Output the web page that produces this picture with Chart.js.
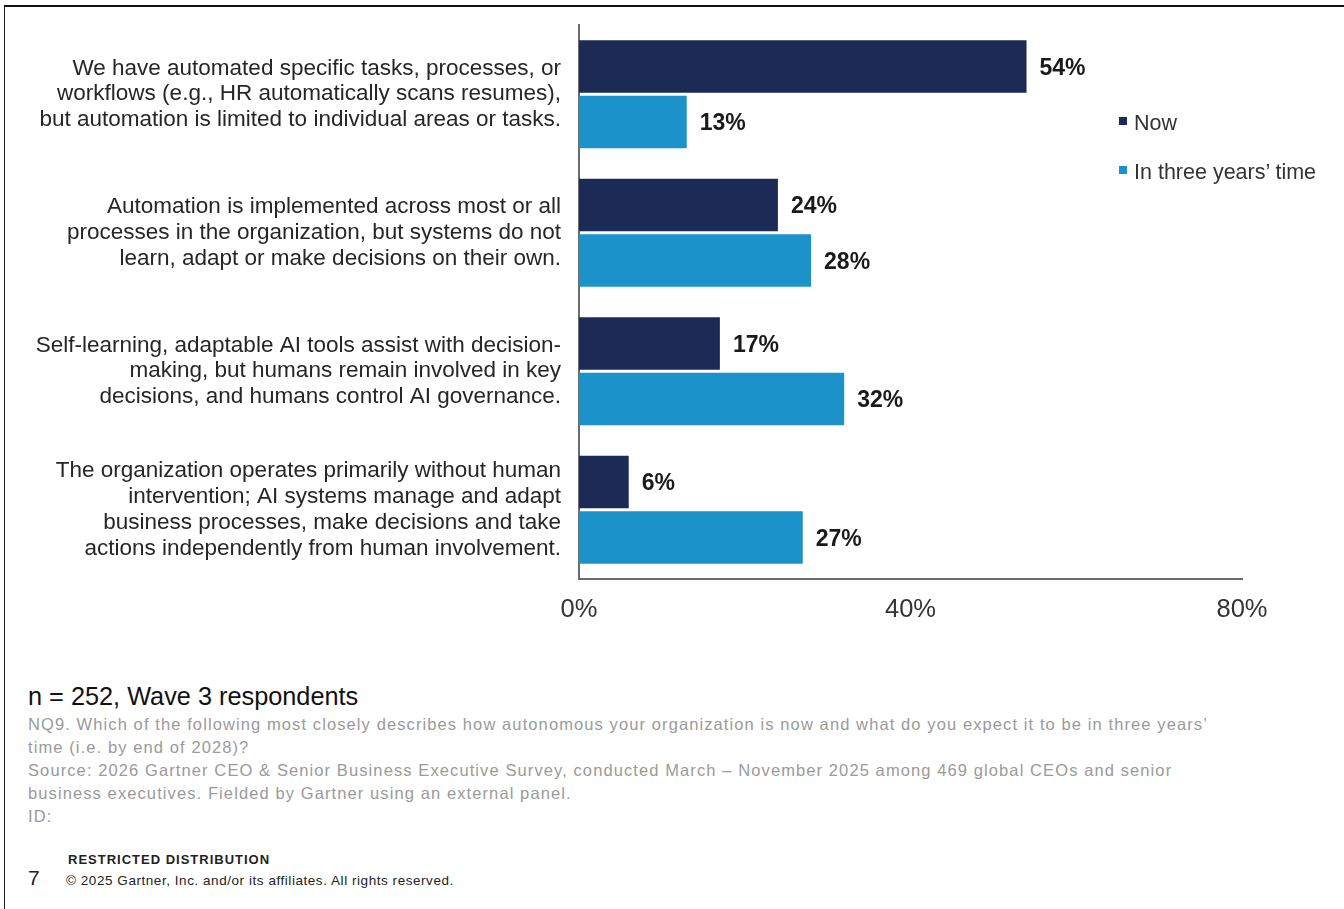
<!DOCTYPE html>
<html lang="en">
<head>
<meta charset="utf-8">
<title>Autonomy of the organization: now vs. in three years</title>
<script src="https://cdn.jsdelivr.net/npm/chart.js@4.4.1/dist/chart.umd.min.js"></script>
<style>
    html, body {
        margin: 0;
        padding: 0;
        background: #ffffff;
        font-family: 'Liberation Sans', Arial, sans-serif;
    }
    .page {
        position: relative;
        width: 1344px;
        height: 909px;
        overflow: hidden;
    }
    .frame {
        position: absolute;
        left: 4px;
        top: 5px;
        width: 1340px;
        height: 904px;
        border-top: 2px solid #111;
        border-left: 1.5px solid #222;
        box-sizing: border-box;
    }
    .chart-box {
        position: absolute;
        left: 0;
        top: 0;
        width: 1344px;
        height: 660px;
    }
    .legend {
        position: absolute;
        left: 1119px;
        top: 109px;
        font-size: 21.5px;
        color: #333;
    }
    .legend div {
        height: 49px;
        line-height: 29px;
        white-space: nowrap;
    }
    .legend span.swatch {
        display: inline-block;
        width: 8px;
        height: 8px;
        margin-right: 7px;
        vertical-align: 5px;
    }
    .base {
        position: absolute;
        left: 28px;
        top: 682px;
        font-size: 25.3px;
        color: #111;
    }
    .notes {
        position: absolute;
        left: 28px;
        top: 713px;
        font-size: 16.5px;
        letter-spacing: 1.1px;
        line-height: 23px;
        color: #9a9a9a;
        white-space: nowrap;
    }
    .restricted {
        position: absolute;
        left: 68px;
        top: 852px;
        font-size: 13px;
        letter-spacing: 1px;
        font-weight: bold;
        color: #222;
    }
    .page-num {
        position: absolute;
        left: 28px;
        top: 866px;
        font-size: 21px;
        color: #222;
    }
    .copyright {
        position: absolute;
        left: 66px;
        top: 873px;
        font-size: 13.5px;
        letter-spacing: 0.55px;
        color: #222;
    }
</style>
</head>
<body>
<div class="page">
    <div class="frame"></div>
    <div class="chart-box"><canvas id="barChart"></canvas></div>

    <div class="legend">
        <div><span class="swatch" style="background:#1b2b56"></span>Now</div>
        <div><span class="swatch" style="background:#1b92c9"></span>In three years’ time</div>
    </div>

    <div class="base">n = 252, Wave 3 respondents</div>
    <div class="notes">
        NQ9. Which of the following most closely describes how autonomous your organization is now and what do you expect it to be in three years’<br>
        time (i.e. by end of 2028)?<br>
        Source: 2026 Gartner CEO &amp; Senior Business Executive Survey, conducted March – November 2025 among 469 global CEOs and senior<br>
        business executives. Fielded by Gartner using an external panel.<br>
        ID:
    </div>
    <div class="restricted">RESTRICTED DISTRIBUTION</div>
    <div class="page-num">7</div>
    <div class="copyright">© 2025 Gartner, Inc. and/or its affiliates. All rights reserved.</div>
</div>

<script>
// --- DATA ---
const categories = [
    ['We have automated specific tasks, processes, or', 'workflows (e.g., HR automatically scans resumes),', 'but automation is limited to individual areas or tasks.'],
    ['Automation is implemented across most or all', 'processes in the organization, but systems do not', 'learn, adapt or make decisions on their own.'],
    ['Self-learning, adaptable AI tools assist with decision-', 'making, but humans remain involved in key', 'decisions, and humans control AI governance.'],
    ['The organization operates primarily without human', 'intervention; AI systems manage and adapt', 'business processes, make decisions and take', 'actions independently from human involvement.']
];
const nowValues = [54, 24, 17, 6];
const threeYearValues = [13, 28, 32, 27];
const seriesNames = ['Now', 'In three years’ time'];
const axisTicks = [0, 40, 80];

document.addEventListener("DOMContentLoaded", function() {

    Chart.defaults.font.family = "'Liberation Sans', Arial, sans-serif";
    Chart.defaults.color = '#333';

    // value labels at the end of each bar
    const barValueLabels = {
        id: 'barValueLabels',
        afterDatasetsDraw(chart) {
            const ctx = chart.ctx;
            ctx.save();
            ctx.font = "bold 23px 'Liberation Sans', Arial, sans-serif";
            ctx.fillStyle = '#1a1a1a';
            ctx.textAlign = 'left';
            ctx.textBaseline = 'middle';
            chart.data.datasets.forEach((ds, i) => {
                const meta = chart.getDatasetMeta(i);
                meta.data.forEach((bar, j) => {
                    ctx.fillText(ds.data[j] + '%', bar.x + 13, bar.y + 2);
                });
            });
            ctx.restore();
        }
    };

    const ctxBar = document.getElementById('barChart').getContext('2d');
    new Chart(ctxBar, {
        type: 'bar',
        data: {
            labels: categories,
            datasets: [{
                label: seriesNames[0],
                data: nowValues,
                backgroundColor: '#1b2b56',
                categoryPercentage: 0.8,
                barPercentage: 0.95
            }, {
                label: seriesNames[1],
                data: threeYearValues,
                backgroundColor: '#1b92c9',
                categoryPercentage: 0.8,
                barPercentage: 0.95
            }]
        },
        options: {
            indexAxis: 'y',
            responsive: true,
            maintainAspectRatio: false,
            animation: false,
            layout: {
                padding: { top: 25, right: 102, bottom: 0, left: 0 }
            },
            plugins: {
                legend: { display: false },
                tooltip: { enabled: false }
            },
            scales: {
                x: {
                    min: 0,
                    max: 80,
                    afterBuildTicks: function(scale) {
                        scale.ticks = axisTicks.map(v => ({ value: v }));
                    },
                    afterFit: function(scale) { scale.height = 81; },
                    grid: { display: false, drawTicks: false },
                    border: { display: true, color: '#6b6b6b', width: 2 },
                    ticks: {
                        padding: 16,
                        color: '#333',
                        font: { size: 25.5 },
                        callback: function(value) { return value + '%'; }
                    }
                },
                y: {
                    afterFit: function(scale) {
                        // fixed width, and no extra room for the tall multi-line labels
                        scale.width = 579;
                        scale.paddingTop = 0;
                        scale.paddingBottom = 0;
                    },
                    grid: { display: false, drawTicks: false },
                    border: { display: true, color: '#6b6b6b', width: 2 },
                    ticks: {
                        padding: 18,
                        color: '#262626',
                        font: { size: 22.5, lineHeight: 1.15 }
                    }
                }
            }
        },
        plugins: [barValueLabels]
    });
});
</script>
</body>
</html>
